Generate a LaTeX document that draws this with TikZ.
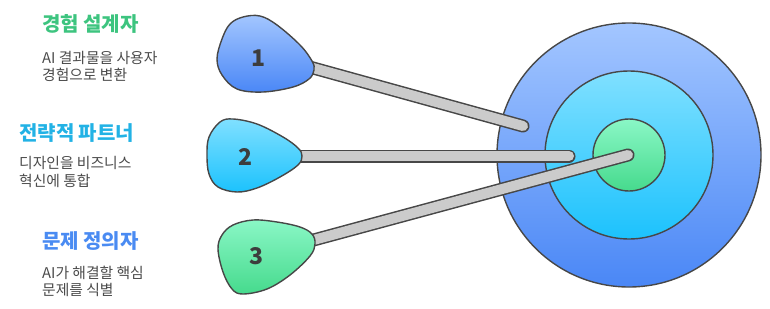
\documentclass[tikz,border=0pt]{standalone}
\usepackage{fontspec}
\setmainfont{Noto Sans CJK KR}
\definecolor{linec}{HTML}{474747}
\definecolor{b1}{HTML}{A3C6FF}
\definecolor{b2}{HTML}{4A87F6}
\definecolor{c1}{HTML}{80E0FF}
\definecolor{c2}{HTML}{1CC2FD}
\definecolor{g1}{HTML}{8AF7C6}
\definecolor{g2}{HTML}{46DA8D}
\definecolor{tg}{HTML}{3DC47F}
\definecolor{tc}{HTML}{22B2E5}
\definecolor{tb}{HTML}{4A8BF2}
\definecolor{txt}{HTML}{4A4A4A}
\definecolor{numc}{HTML}{3D3D3D}
\definecolor{shaftc}{HTML}{CBCBCB}
\begin{document}
\begin{tikzpicture}[x=1pt,y=-1pt,
  edge/.style={draw=linec, line width=1.4pt},
  ring/.style={circle, edge, inner sep=0pt},
  shaftout/.style={draw=linec, line width=13pt, line cap=round},
  shaftin/.style={draw=shaftc, line width=10pt, line cap=round},
  headtxt/.style={font=\bfseries\fontsize{23}{25}\selectfont, text=numc},
  ttl/.style={anchor=base west, inner sep=0pt, font=\bfseries\fontsize{20}{24}\selectfont},
  desc/.style={anchor=base west, inner sep=0pt, text=txt, font=\fontsize{14.8}{17}\selectfont}]
\useasboundingbox (0,0) rectangle (770,308);

% target
\node[ring, top color=b1, bottom color=b2, minimum size=264pt] (outer) at (629,155) {};
\node[ring, top color=c1, bottom color=c2, minimum size=168pt] (middle) at (629,155) {};
\node[ring, top color=g1, bottom color=g2, minimum size=72pt] (inner) at (629,155) {};

% shaft end points
\coordinate (s1) at (295,63);
\coordinate (e1) at (523,126);
\coordinate (s2) at (290,156);
\coordinate (e2) at (569,156);
\coordinate (s3) at (295,245);
\coordinate (e3) at (628,155);

\foreach \i in {1,2,3}{
  \draw[shaftout] (s\i) -- (e\i);
  \draw[shaftin] (s\i) -- (e\i);
}

% heads
\path[edge, top color=b1, bottom color=b2] plot[smooth cycle, tension=0.6] coordinates {
 (260,16) (277,25) (300,45) (312,61) (314,70) (309,79) (293,87) (263,92) (237,89) (222,75) (217,59) (222,39) (230,24) (243,17)};
\path[edge, top color=c1, bottom color=c2] plot[smooth cycle, tension=0.6] coordinates {
 (233,119) (257,124) (283,137) (298,148) (302,156) (298,165) (280,177) (257,188) (237,192) (218,187) (209,174) (207,155) (209,137) (220,122)};
\path[edge, top color=g1, bottom color=g2] plot[smooth cycle, tension=0.6] coordinates {
 (253,220) (277,222) (300,227) (312,234) (315,244) (310,256) (290,275) (267,289) (243,294) (232,289) (223,272) (218,249) (222,235) (233,225)};

\node[headtxt] (n1) at (258,58) {1};
\node[headtxt] (n2) at (245,157) {2};
\node[headtxt] (n3) at (256,256) {3};

% texts
\node[ttl, text=tg] (t1) at (42,31) {경험 설계자};
\node[desc] (d1a) at (42,63) {AI 결과물을 사용자};
\node[desc] (d1b) at (42,80) {경험으로 변환};

\node[ttl, text=tc] (t2) at (19,140) {전략적 파트너};
\node[desc] (d2a) at (19,168) {디자인을 비즈니스};
\node[desc] (d2b) at (19,186) {혁신에 통합};

\node[ttl, text=tb] (t3) at (42,248) {문제 정의자};
\node[desc] (d3a) at (42,278) {AI가 해결할 핵심};
\node[desc] (d3b) at (42,295) {문제를 식별};
\end{tikzpicture}
\end{document}
